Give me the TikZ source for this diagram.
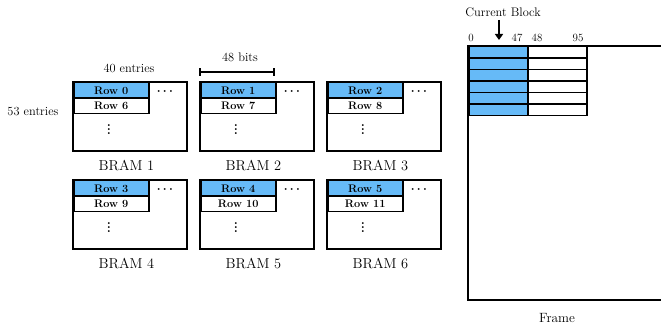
\documentclass[tikz,border=0pt]{standalone}
\usepackage{amsmath}
\usetikzlibrary{arrows.meta}
\definecolor{rowblue}{RGB}{102,186,247}
\begin{document}
\begin{tikzpicture}[x=1pt,y=-1pt,
  lbl/.style={font=\fontsize{12.4}{14}\selectfont, inner sep=0pt},
  bigl/.style={font=\fontsize{14.4}{16}\selectfont, inner sep=0pt},
  numlbl/.style={font=\fontsize{11}{13}\selectfont, inner sep=0pt},
  rowcell/.style={draw, line width=1.5pt, minimum width=75pt, minimum height=15.5pt,
                  inner sep=0pt, anchor=north west, font=\fontsize{11}{13}\selectfont\bfseries},
  dotmark/.style={font=\fontsize{12}{14}\selectfont, inner sep=0pt},
  vdotmark/.style={font=\fontsize{13}{10}\selectfont\bfseries, inner sep=0pt},
  gridcell/.style={draw, line width=1.5pt, minimum width=59pt, minimum height=11.5pt,
                   inner sep=0pt, anchor=north west}]
\useasboundingbox (0,0) rectangle (661,328);
\clip (0,0) rectangle (661,328);

% six BRAM blocks: x, y of top-left corner, index
\foreach \bx/\by/\k [evaluate=\k as \ra using int(\k-1), evaluate=\k as \rb using int(\k+5)]
  in {73/82/1, 200/82/2, 327/82/3, 73/180/4, 200/180/5, 327/180/6} {
  \node[rowcell, fill=rowblue] (r\k a) at (\bx,\by) {Row \ra};
  \node[rowcell, fill=white] (r\k b) at (\bx,\by+15.5) {Row \rb};
  \coordinate (b\k) at (\bx,\by);
  \draw[line width=2.5pt] (b\k) rectangle ++(114,69);
  \node[dotmark] (h\k) at (\bx+93,\by+10) {$\boldsymbol{\cdots}$};
  \node[vdotmark] (v\k) at (\bx+36,\by+45) {\vdots};
  \node[bigl] (n\k) at (\bx+53.5,\by+84) {BRAM \k};
}

\node[lbl] (w40) at (129,68) {40 entries};
\node[lbl] (h53) at (33,112) {53 entries};

% width marker above BRAM 2
\coordinate (bl) at (200,72);
\coordinate (br) at (274,72);
\draw[line width=1.5pt] (bl) -- (br);
\draw[line width=1.5pt] ([yshift=-4pt]bl) -- ([yshift=4pt]bl);
\draw[line width=1.5pt] ([yshift=-4pt]br) -- ([yshift=4pt]br);
\node[lbl] (bits) at (240,57) {48 bits};

% frame with its first rows
\coordinate (frame) at (468,46);
\foreach \i in {0,...,5} {
  \node[gridcell, fill=rowblue] (fa\i) at (468,46+11.5*\i) {};
  \node[gridcell, fill=white] (fb\i) at (527,46+11.5*\i) {};
}
\draw[line width=2.5pt] (700,46) -- (frame) -- (468,300) -- (700,300);

\node[numlbl] (c0) at (471,38) {0};
\node[numlbl] (c47) at (517,38) {47};
\node[numlbl] (c48) at (537,38) {48};
\node[numlbl] (c95) at (578,38) {95};

\node[lbl] (cur) at (503,12) {Current Block};
\coordinate (arrtop) at (499,20);
\coordinate (arrend) at (499,40);
\draw[line width=2pt, -{Triangle[length=6pt,width=8pt]}] (arrtop) -- (arrend);

\node[font=\fontsize{13.4}{15}\selectfont, inner sep=0pt] (fr) at (557,318) {Frame};
\end{tikzpicture}
\end{document}
